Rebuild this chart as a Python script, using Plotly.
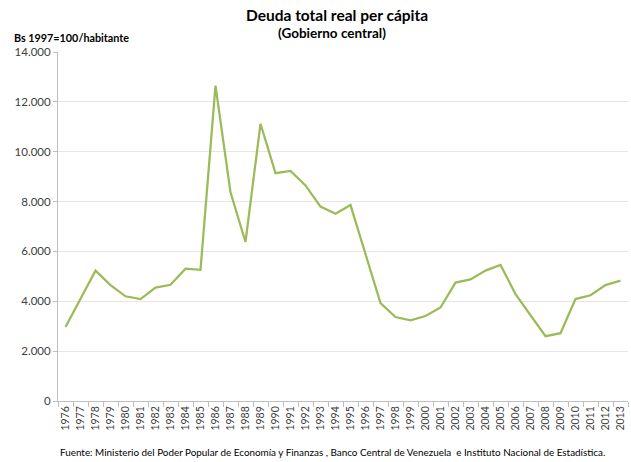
import plotly.graph_objects as go

years = [str(y) for y in range(1976, 2014)]
deuda = [2970, 4100, 5230, 4650, 4200, 4090, 4550, 4660, 5310, 5260,
         12650, 8370, 6380, 11120, 9140, 9230, 8650, 7800, 7510, 7860,
         5920, 3930, 3370, 3240, 3410, 3750, 4750, 4880, 5230, 5460,
         4290, 3420, 2600, 2720, 4090, 4240, 4650, 4830]

title = "Deuda total real per cápita"
subtitle = "(Gobierno central)"
y_label = "Bs 1997=100/habitante"
source = ("Fuente: Ministerio del Poder Popular de Economía y Finanzas , "
          "Banco Central de Venezuela  e Instituto Nacional de Estadística.")

font_family = "Lato, 'Open Sans', sans-serif"

fig = go.Figure()
fig.add_trace(go.Scatter(
    x=years, y=deuda, mode="lines",
    line=dict(color="#9BBB59", width=2.25),
    hoverinfo="x+y",
))

fig.update_layout(
    width=631, height=462,
    margin=dict(l=58, r=3, t=52, b=61),
    paper_bgcolor="white", plot_bgcolor="white",
    showlegend=False,
    font=dict(family=font_family, color="#404040"),
    separators=",.",
    xaxis=dict(
        type="category",
        tickangle=-90,
        tickfont=dict(size=10.5, color="#404040"),
        showgrid=False,
        showline=True, linecolor="#BFBFBF", linewidth=1,
        ticks="outside", tickson="boundaries", ticklen=5, tickcolor="#BFBFBF",
        range=[-0.5, len(years) - 0.5],
    ),
    yaxis=dict(
        range=[0, 14000],
        tickvals=list(range(0, 14001, 2000)),
        tickformat=",d",
        tickfont=dict(size=11.5, color="#404040"),
        showgrid=True, gridcolor="#E6E6E6", gridwidth=1,
        showline=True, linecolor="#BFBFBF", linewidth=1,
        zeroline=False,
        ticks="outside", ticklen=4, tickcolor="#BFBFBF",
    ),
)

fig.add_annotation(text="<b>" + title + "</b>", xref="paper", yref="paper",
                   x=0.49, y=1, yanchor="middle", yshift=37, showarrow=False,
                   font=dict(size=15.5, color="#000000", family=font_family))
fig.add_annotation(text="<b>" + subtitle + "</b>", xref="paper", yref="paper",
                   x=0.481, y=1, yanchor="middle", yshift=19, showarrow=False,
                   font=dict(size=13.5, color="#000000", family=font_family))
fig.add_annotation(text="<b>" + y_label + "</b>", xref="paper", yref="paper",
                   x=-0.08, xanchor="left", y=1, yanchor="middle", yshift=15,
                   showarrow=False,
                   font=dict(size=10.8, color="#000000", family=font_family))
fig.add_annotation(text=source, xref="paper", yref="paper",
                   x=0.4816, y=0, yanchor="middle", yshift=-51, showarrow=False,
                   font=dict(size=9.9, color="#000000", family=font_family))

fig.write_html("out.html")
